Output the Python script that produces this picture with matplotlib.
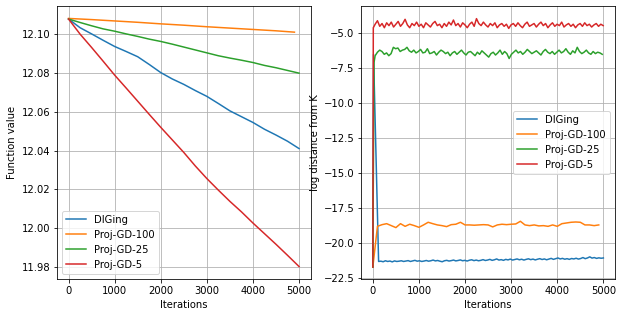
import numpy as np
import matplotlib
matplotlib.use('Agg')
import matplotlib.pyplot as plt

labels = ['DIGing', 'Proj-GD-100', 'Proj-GD-25', 'Proj-GD-5']

# Linkes Diagramm: Funktionswert
it_left = np.arange(0, 5001, 250)
f_diging = [12.108, 12.1035, 12.1003, 12.097, 12.0938, 12.0912, 12.0885, 12.0845,
            12.0803, 12.077, 12.0742, 12.071, 12.068, 12.0643, 12.0605, 12.0575,
            12.0545, 12.051, 12.048, 12.0448, 12.041]
it_gd100_left = [0, 500, 1000, 1500, 2000, 2500, 3000, 3500, 4000, 4500, 4900]
f_gd100 = [12.1083, 12.1077, 12.107, 12.1063, 12.1055, 12.1048, 12.104, 12.1033,
           12.1026, 12.1019, 12.1012]
f_gd25 = [12.108, 12.1062, 12.1045, 12.1029, 12.1017, 12.1003, 12.099, 12.0976,
          12.0964, 12.095, 12.0935, 12.092, 12.0905, 12.089, 12.0878, 12.0867,
          12.0855, 12.084, 12.0828, 12.0814, 12.080]
f_gd5 = [12.108, 12.1002, 12.0933, 12.0862, 12.079, 12.0723, 12.0655, 12.0587,
         12.052, 12.0455, 12.039, 12.032, 12.0255, 12.0195, 12.0137, 12.0083,
         12.0025, 11.997, 11.9915, 11.9858, 11.980]

# Rechtes Diagramm: log-Abstand von K
d_diging_head = [-21.7, -6.5]
d_diging = [-21.3, -21.28, -21.32, -21.25, -21.3, -21.27, -21.33, -21.26, -21.3, -21.28,
            -21.25, -21.3, -21.27, -21.24, -21.3, -21.26, -21.22, -21.28, -21.25, -21.3,
            -21.27, -21.23, -21.28, -21.25, -21.2, -21.26, -21.23, -21.28, -21.32, -21.25,
            -21.22, -21.27, -21.24, -21.2, -21.26, -21.23, -21.19, -21.25, -21.22, -21.27,
            -21.21, -21.18, -21.24, -21.2, -21.25, -21.22, -21.17, -21.23, -21.2, -21.15,
            -21.22, -21.18, -21.12, -21.2, -21.17, -21.22, -21.15, -21.19, -21.13, -21.2,
            -21.16, -21.12, -21.18, -21.14, -21.2, -21.15, -21.11, -21.17, -21.13, -21.19,
            -21.14, -21.1, -21.16, -21.12, -21.18, -21.13, -21.08, -21.15, -21.1, -21.05,
            -21.12, -21.08, -21.14, -21.1, -21.15, -21.09, -21.12, -21.07, -21.13, -21.09,
            -21.02, -21.1, -21.05, -20.97, -21.06, -21.02, -21.08, -21.04, -21.07, -21.05]
d_gd100 = [-21.7, -18.79, -18.67, -18.6, -18.74, -18.88, -18.6, -18.79, -18.64, -18.74,
           -18.86, -18.69, -18.5, -18.6, -18.69, -18.74, -18.81, -18.67, -18.64, -18.5,
           -18.69, -18.69, -18.71, -18.69, -18.67, -18.69, -18.83, -18.69, -18.64, -18.67,
           -18.64, -18.62, -18.43, -18.69, -18.74, -18.69, -18.76, -18.74, -18.79, -18.69,
           -18.79, -18.6, -18.55, -18.5, -18.48, -18.5, -18.69, -18.69, -18.74, -18.69]
d_gd25_head = [-21.7, -7.1, -6.6]
d_gd25 = [-6.35, -6.2, -6.3, -6.5, -6.4, -6.6, -6.45, -6.0, -6.1, -6.05,
          -6.3, -6.2, -6.15, -6.0, -6.25, -6.35, -6.2, -6.4, -6.3, -6.15,
          -6.4, -6.35, -6.1, -6.45, -6.4, -6.3, -6.55, -6.35, -6.2, -6.3,
          -6.45, -6.35, -6.6, -6.4, -6.3, -6.5, -6.35, -6.2, -6.4, -6.55,
          -6.35, -6.3, -6.45, -6.6, -6.35, -6.5, -6.25, -6.4, -6.55, -6.7,
          -6.45, -6.35, -6.55, -6.4, -6.2, -6.5, -6.3, -6.45, -6.8, -6.5,
          -6.35, -6.2, -6.4, -6.3, -6.5, -6.35, -6.15, -6.3, -6.45, -6.35,
          -6.25, -6.4, -6.55, -6.3, -6.15, -6.35, -6.45, -6.3, -6.5, -6.35,
          -6.2, -6.4, -6.3, -6.1, -6.35, -6.5, -6.25, -6.4, -6.0, -6.3,
          -6.45, -6.35, -6.2, -6.4, -6.5, -6.3, -6.45, -6.35, -6.4, -6.5]
d_gd5_head = [-21.7, -4.6]
d_gd5 = [-4.35, -4.1, -4.5, -4.3, -4.6, -4.25, -4.45, -4.2, -4.55, -4.35,
         -4.15, -4.5, -4.3, -4.0, -4.4, -4.6, -4.3, -4.45, -4.2, -4.5,
         -4.35, -4.6, -4.25, -4.4, -4.55, -4.3, -4.15, -4.45, -4.35, -4.6,
         -4.3, -4.5, -4.2, -4.4, -4.05, -4.45, -4.3, -4.55, -4.25, -4.4,
         -4.6, -4.35, -4.2, -4.5, -3.95, -4.3, -4.45, -4.2, -4.4, -4.55,
         -4.3, -4.45, -4.25, -4.6, -4.4, -4.3, -4.5, -4.35, -4.65, -4.4,
         -4.3, -4.5, -4.25, -4.45, -4.6, -4.35, -4.2, -4.5, -4.4, -4.3,
         -4.55, -4.35, -4.2, -4.45, -4.3, -4.6, -4.4, -4.25, -4.5, -4.35,
         -4.45, -4.2, -4.55, -4.4, -4.3, -4.5, -4.35, -4.6, -4.4, -4.3,
         -4.5, -4.25, -4.45, -4.35, -4.55, -4.4, -4.3, -4.5, -4.35, -4.45]

fig, (ax1, ax2) = plt.subplots(1, 2, figsize=(623 / 72, 317 / 72), dpi=72)
plt.subplots_adjust(left=0.0915, right=0.987, bottom=0.12, top=0.981, wspace=0.2)

ax1.plot(it_left, f_diging, label=labels[0])
ax1.plot(it_gd100_left, f_gd100, label=labels[1])
ax1.plot(it_left, f_gd25, label=labels[2])
ax1.plot(it_left, f_gd5, label=labels[3])
ax1.set_xlabel('Iterations')
ax1.set_ylabel('Function value')
ax1.set_yticks([11.98, 12.00, 12.02, 12.04, 12.06, 12.08, 12.10])
ax1.grid(True)
ax1.legend(loc='lower left')

# x-Werte fuer das rechte Diagramm
x_dig = np.r_[0, 15, np.linspace(125, 5000, len(d_diging))]
x_100 = np.arange(0, 100 * len(d_gd100), 100)
x_25 = np.r_[0, 25, 50, np.linspace(100, 4975, len(d_gd25))]
x_5 = np.r_[0, 10, np.linspace(50, 4995, len(d_gd5))]

ax2.plot(x_dig, d_diging_head + d_diging, label=labels[0])
ax2.plot(x_100, d_gd100, label=labels[1])
ax2.plot(x_25, d_gd25_head + d_gd25, label=labels[2])
ax2.plot(x_5, d_gd5_head + d_gd5, label=labels[3])
ax2.set_xlabel('Iterations')
ax2.set_ylabel('log distance from K')
ax2.set_ylim(-22.55, -3.05)
ax2.grid(True)
ax2.legend(loc='center right')

plt.savefig('out.png', dpi=72)
